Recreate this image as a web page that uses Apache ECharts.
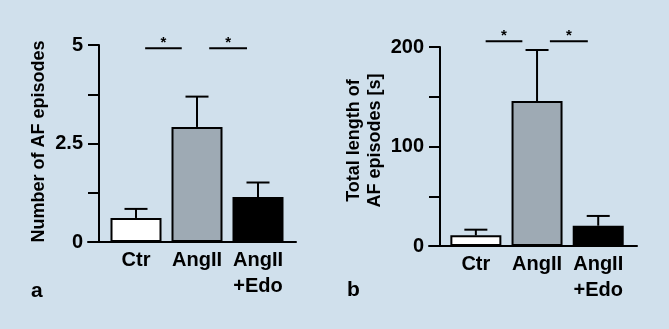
<!DOCTYPE html>
<html>
<head>
<meta charset="UTF-8">
<title>AF episodes</title>
<script src="https://cdn.jsdelivr.net/npm/echarts@6/dist/echarts.min.js"></script>
<style>
  html, body { margin: 0; padding: 0; background: #d0e0ec; }
  #main { width: 669px; height: 329px; }
</style>
</head>
<body>
<div id="main"></div>
<script type="text/javascript">
// data
var categories = ['Ctr', 'AngII', 'AngII\n+Edo'];
var barColors = ['#ffffff', '#9eaab4', '#000000'];

var episodeMean = [0.61, 2.92, 1.14];
var episodeErr = [0.23, 0.77, 0.37];
var episodeLabels = [0, 2.5, 5];
var episodeSig = [[0.15, 0.75, 4.92], [1.2, 1.82, 4.92]];

var lengthMean = [10.7, 145.7, 20.4];
var lengthErr = [5.7, 51.3, 9.8];
var lengthLabels = [0, 100, 200];
var lengthSig = [[0.16, 0.76, 205.7], [1.21, 1.83, 205.7]];

var font = "'Liberation Sans', Arial, sans-serif";

function barData(means) {
	return means.map(function (v, i) {
		return { value: [i, v], itemStyle: { color: barColors[i] } };
	});
}
function errData(means, errs) {
	return means.map(function (v, i) { return [i, v, errs[i]]; });
}

function renderErr(params, api) {
	var x = api.value(0), m = api.value(1), e = api.value(2);
	var p0 = api.coord([x, m]);
	var p1 = api.coord([x, m + e]);
	var half = 11.5;
	var st = { stroke: '#000', lineWidth: 2 };
	return {
		type: 'group',
		children: [
			{ type: 'line', shape: { x1: p0[0], y1: p0[1], x2: p1[0], y2: p1[1] }, style: st },
			{ type: 'line', shape: { x1: p1[0] - half, y1: p1[1], x2: p1[0] + half, y2: p1[1] }, style: st }
		]
	};
}

function renderSig(params, api) {
	var a = api.coord([api.value(0), api.value(2)]);
	var b = api.coord([api.value(1), api.value(2)]);
	return {
		type: 'group',
		children: [
			{ type: 'line', shape: { x1: a[0], y1: a[1], x2: b[0], y2: b[1] }, style: { stroke: '#000', lineWidth: 2 } },
			{ type: 'text', x: (a[0] + b[0]) / 2, y: a[1] + 2, style: {
				text: '*', fill: '#000', font: 'bold 15px ' + font, align: 'center', verticalAlign: 'bottom' } }
		]
	};
}

function xAxisCfg(idx, min, max) {
	return {
		gridIndex: idx, type: 'value', min: min, max: max,
		splitLine: { show: false },
		axisLine: { onZero: false, lineStyle: { color: '#000', width: 2 } },
		axisTick: { show: false },
		axisLabel: {
			customValues: [0, 1, 2],
			formatter: function (v) { return categories[Math.round(v)]; },
			color: '#000', fontFamily: font, fontWeight: 'bold', fontSize: 20,
			lineHeight: 26, margin: 5
		}
	};
}

function yAxisCfg(idx, max, step, labels, name, gap, pad) {
	return {
		gridIndex: idx, type: 'value', min: 0, max: max, interval: step,
		offset: -11,
		name: name, nameLocation: 'middle', nameRotate: 90, nameGap: gap,
		nameTextStyle: { color: '#000', fontFamily: font, fontWeight: 'bold', fontSize: 18, lineHeight: 21,
			padding: [0, 0, 0, pad] },
		splitLine: { show: false },
		axisLine: { show: true, onZero: false, lineStyle: { color: '#000', width: 2 } },
		axisTick: { show: true, length: 11, lineStyle: { color: '#000', width: 2 } },
		axisLabel: {
			margin: 16, color: '#000', fontFamily: font, fontWeight: 'bold', fontSize: 20,
			formatter: function (v) { return labels.indexOf(v) >= 0 ? String(v) : ''; }
		}
	};
}

var myChart = echarts.init(document.getElementById('main'));
var option = {
	backgroundColor: '#d0e0ec',
	animation: false,
	grid: [
		{ left: 88, right: 373, top: 45, bottom: 87 },
		{ left: 429, right: 32, top: 47, bottom: 83 }
	],
	xAxis: [
		xAxisCfg(0, -0.787, 2.623),
		xAxisCfg(1, -0.766, 2.634)
	],
	yAxis: [
		yAxisCfg(0, 5, 1.25, episodeLabels, 'Number of AF episodes', 49, 4),
		yAxisCfg(1, 200, 50, lengthLabels, 'Total length of\nAF episodes [s]', 54, 12)
	],
	graphic: [
		{ type: 'text', left: 31, top: 281, style: { text: 'a', fill: '#000', font: 'bold 21px ' + font } },
		{ type: 'text', left: 347, top: 280, style: { text: 'b', fill: '#000', font: 'bold 21px ' + font } }
	],
	series: [
		{ type: 'custom', xAxisIndex: 0, yAxisIndex: 0, renderItem: renderErr, data: errData(episodeMean, episodeErr) },
		{ type: 'bar', xAxisIndex: 0, yAxisIndex: 0, barWidth: 51, data: barData(episodeMean),
		  itemStyle: { borderColor: '#000', borderWidth: 2 } },
		{ type: 'custom', xAxisIndex: 0, yAxisIndex: 0, renderItem: renderSig, data: episodeSig,
		  encode: { x: [0, 1], y: 2 } },

		{ type: 'custom', xAxisIndex: 1, yAxisIndex: 1, renderItem: renderErr, data: errData(lengthMean, lengthErr) },
		{ type: 'bar', xAxisIndex: 1, yAxisIndex: 1, barWidth: 51, data: barData(lengthMean),
		  itemStyle: { borderColor: '#000', borderWidth: 2 } },
		{ type: 'custom', xAxisIndex: 1, yAxisIndex: 1, renderItem: renderSig, data: lengthSig,
		  encode: { x: [0, 1], y: 2 } }
	]
};
myChart.setOption(option);
</script>
</body>
</html>
